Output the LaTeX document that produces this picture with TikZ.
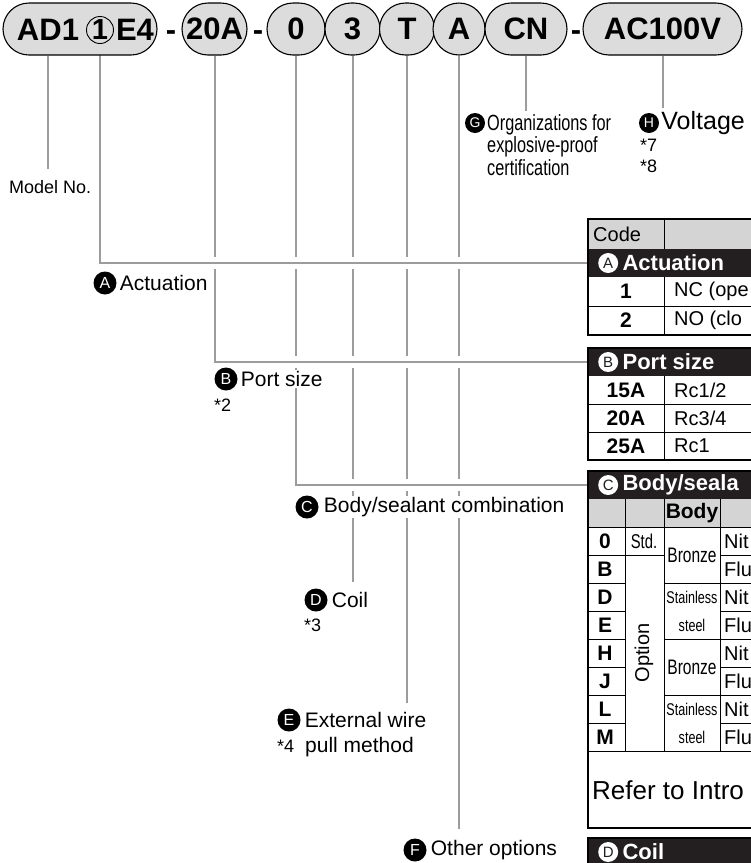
\documentclass[tikz,border=0pt]{standalone}
\usepackage{fontspec}
\setmainfont{Liberation Sans}
\newfontfamily\narrowfont[FakeStretch=0.74]{Liberation Sans}
\usetikzlibrary{positioning,shapes.misc,backgrounds}

\definecolor{pillfill}{HTML}{DCDCDC}
\definecolor{cellgrey}{HTML}{D4D4D4}
\definecolor{bandcol}{HTML}{231F20}
\definecolor{leadgrey}{HTML}{9C9C9C}

\newcommand{\fsz}[1]{\fontsize{#1}{#1}\selectfont}

\tikzset{
  pill/.style={rounded rectangle, draw=black, line width=1.1pt, fill=pillfill,
    minimum height=52pt, inner sep=0pt, font=\bfseries\fsz{31}},
  codetxt/.style={font=\bfseries\fsz{31}, inner sep=0pt},
  lead/.style={leadgrey, line width=2pt},
  halo/.style={lead, preaction={draw=white, line width=12pt}},
  badge/.style={circle, fill=black, text=white, minimum size=23pt, inner sep=0pt, font=\fsz{16}},
  lbl/.style={font=\fsz{21}, inner sep=1pt, fill=white},
  note/.style={font=\fsz{18}, inner sep=1pt},
  band/.style={rectangle, fill=bandcol, minimum height=28pt, minimum width=190pt, inner sep=0pt, anchor=west},
  wbadge/.style={circle, fill=white, text=bandcol, minimum size=20pt, inner sep=0pt, font=\fsz{15}},
  bandtxt/.style={text=white, font=\bfseries\fsz{22}, inner sep=0pt},
  cell/.style={font=\fsz{20}, inner sep=0pt},
  keytxt/.style={font=\bfseries\fsz{21}, inner sep=0pt},
  tblframe/.style={line width=2.5pt},
  rule/.style={line width=0.8pt},
}

\begin{document}
\begin{tikzpicture}[x=1pt, y=-1pt]
    \useasboundingbox (0,0) rectangle (751,863);
    \clip (0,0) rectangle (751,863);

    % Model number pills
    \node[pill, minimum width=154pt] (p1) at (80,29) {};
    \node[codetxt] (ad) at (48,30) {AD1};
    \node[draw, circle, line width=0.9pt, minimum size=27pt, inner sep=0pt, font=\bfseries\fsz{29}] (one) at (100,30) {1};
    \node[codetxt] (e4) at (135,30) {E4};
    \node[codetxt, anchor=base] (d1) at (171,40) {-};
    \node[pill, minimum width=65pt] (p2) at (214.5,29) {20A};
    \node[codetxt, anchor=base] (d2) at (258,40) {-};
    \node[pill, minimum width=58pt] (p3) at (296,29) {0};
    \node[pill, minimum width=55pt] (p4) at (352.5,29) {3};
    \node[pill, minimum width=55pt] (p5) at (407,29) {T};
    \node[pill, minimum width=52pt] (p6) at (459,29) {A};
    \node[pill, minimum width=82pt] (p7) at (526,29) {CN};
    \node[codetxt, anchor=base] (d3) at (576,40) {-};
    \node[pill, minimum width=159pt] (p8) at (662.5,29) {AC100V};

    % Labels
    \node[note, anchor=west] (model) at (8,187) {Model No.};
    \node[badge] (bA) at (105,283) {A};
    \node[lbl, right=2pt of bA] (tA) {Actuation};
    \node[badge] (bB) at (226,379) {B};
    \node[lbl, right=2pt of bB] (tB) {Port size};
    \node[note, anchor=west] (n2) at (213,405) {*2};
    \node[badge] (bC) at (307,507) {C};
    \node[lbl, right=4pt of bC] (tC) {Body/sealant combination};
    \node[badge] (bD) at (316,600) {D};
    \node[lbl, right=3pt of bD] (tD) {Coil};
    \node[note, anchor=west] (n3) at (303,625) {*3};
    \node[badge] (bE) at (289,720) {E};
    \node[lbl, right=3pt of bE] (tE) {External wire};
    \node[lbl, anchor=west] (tE2) at (304,747) {pull method};
    \node[note, anchor=west] (n4) at (276,746) {*4};
    \node[badge] (bF) at (415,850) {F};
    \node[lbl, right=3pt of bF] (tF) {Other options};
    \node[badge, minimum size=20pt, font=\fsz{14}] (bG) at (475,123) {G};
    \node[anchor=north west, align=left, inner sep=0pt, font=\narrowfont\fontsize{22}{22.5}\selectfont] (tG) at (487,114) {Organizations for\\explosive-proof\\certification};
    \node[badge, minimum size=20pt, font=\fsz{14}] (bH) at (649,123) {H};
    \node[right=2pt of bH, inner sep=0pt, font=\fsz{25}] (tH) {Voltage};
    \node[anchor=north west, align=left, inner sep=0pt, font=\fontsize{18}{21}\selectfont] (n78) at (640,139) {*7\\*8};

    % Table: code row and actuation
    \fill[cellgrey] (588,219) rectangle (760,249);
    \node[cell, anchor=west] (code) at (593,234) {Code};
    \node[band] (hA) at (588,263) {};
    \node[wbadge, right=10pt of hA.west] (wA) {A};
    \node[bandtxt, right=4pt of wA] (xA) {Actuation};
    \draw[rule] (664,219) -- (664,249);
    \draw[rule] (664,277) -- (664,335);
    \draw[rule] (588,306) -- (760,306);
    \node[keytxt] (k1) at (626,291.5) {1};
    \node[cell, anchor=west] (v1) at (674,291.5) {NC (ope};
    \node[keytxt] (k2) at (626,320.5) {2};
    \node[cell, anchor=west] (v2) at (674,320.5) {NO (clo};
    \draw[tblframe] (760,219) -- (588,219) -- (588,335) -- (760,335);

    % Table: port size
    \node[band] (hB) at (588,362) {};
    \node[wbadge, right=10pt of hB.west] (wB) {B};
    \node[bandtxt, right=4pt of wB] (xB) {Port size};
    \draw[rule] (664,376) -- (664,460);
    \draw[rule] (588,404) -- (760,404);
    \draw[rule] (588,432) -- (760,432);
    \node[keytxt] (k15) at (626,390) {15A};
    \node[cell, anchor=west] (v15) at (674,390) {Rc1/2};
    \node[keytxt] (k20) at (626,418) {20A};
    \node[cell, anchor=west] (v20) at (674,418) {Rc3/4};
    \node[keytxt] (k25) at (626,446) {25A};
    \node[cell, anchor=west] (v25) at (674,446) {Rc1};
    \draw[tblframe] (760,348) -- (588,348) -- (588,460) -- (760,460);

    % Table: body/sealant combination
    \node[band] (hC) at (588,485) {};
    \node[wbadge, right=10pt of hC.west] (wC) {C};
    \node[bandtxt, right=4pt of wC] (xC) {Body/seala};
    \fill[cellgrey] (588,499) rectangle (760,527);
    \node[keytxt] (body) at (692,513) {Body};
    \draw[rule] (625,499) -- (625,751);
    \draw[rule] (664,499) -- (664,751);
    \draw[rule] (720,499) -- (720,751);
    \draw[rule] (588,527) -- (760,527);
    \draw[rule] (588,751) -- (760,751);
    \foreach \y in {555,583,611,639,667,695,723} {
        \draw[rule] (588,\y) -- (625,\y);
        \draw[rule] (720,\y) -- (760,\y);
    }
    \draw[rule] (625,555) -- (664,555);
    \foreach \y in {583,639,695}
        \draw[rule] (664,\y) -- (720,\y);
    \foreach \k [count=\i] in {0,B,D,E,H,J,L,M}
        \node[keytxt] (c\k) at (605,{541+28*(\i-1)}) {\k};
    \foreach \s [count=\i] in {Nit,Flu,Nit,Flu,Nit,Flu,Nit,Flu}
        \node[cell, anchor=west] (s\i) at (724,{541+28*(\i-1)}) {\s};
    \node[cell, font=\narrowfont\fsz{20}] (std) at (644,541) {Std.};
    \node[cell, rotate=90] (opt) at (644,653) {Option};
    \node[cell, font=\narrowfont\fsz{21}] (br1) at (692,555) {Bronze};
    \node[cell, align=center, font=\narrowfont\fontsize{17}{28}\selectfont] (ss1) at (692,611) {Stainless\\steel};
    \node[cell, font=\narrowfont\fsz{21}] (br2) at (692,667) {Bronze};
    \node[cell, align=center, font=\narrowfont\fontsize{17}{28}\selectfont] (ss2) at (692,723) {Stainless\\steel};
    \node[cell, anchor=west, font=\fsz{26}] (refer) at (592,790) {Refer to Intro};
    \draw[tblframe] (760,471) -- (588,471) -- (588,828) -- (760,828);

    % Table: coil
    \node[band] (hD) at (588,852) {};
    \node[wbadge, right=10pt of hD.west] (wD) {D};
    \node[bandtxt, right=4pt of wD] (xD) {Coil};
    \draw[tblframe] (760,838) -- (588,838) -- (588,870);

    % Leader lines, deepest first so the upper ones cut a gap
    \begin{scope}[on background layer]
        \draw[lead, shorten >=10pt] (p6.south) -- (p6.south |- tF.north);
        \draw[lead, shorten >=8pt] (p5.south) -- (p5.south |- tE.north);
        \draw[lead, shorten >=9pt] (p4.south) -- (p4.south |- tD.north);
        \draw[halo] (p3.south) |- (hC.west);
        \draw[halo] (p2.south) |- (hB.west);
        \draw[halo] (one.south) |- (hA.west);
        \draw[lead, shorten >=10pt] (ad |- p1.south) -- (ad |- model.north);
        \draw[lead, shorten >=3pt] (p7.south) -- (p7.south |- tG.north);
        \draw[lead, shorten >=3pt] (p8.south) -- (p8.south |- tH.north);
    \end{scope}
\end{tikzpicture}
\end{document}
